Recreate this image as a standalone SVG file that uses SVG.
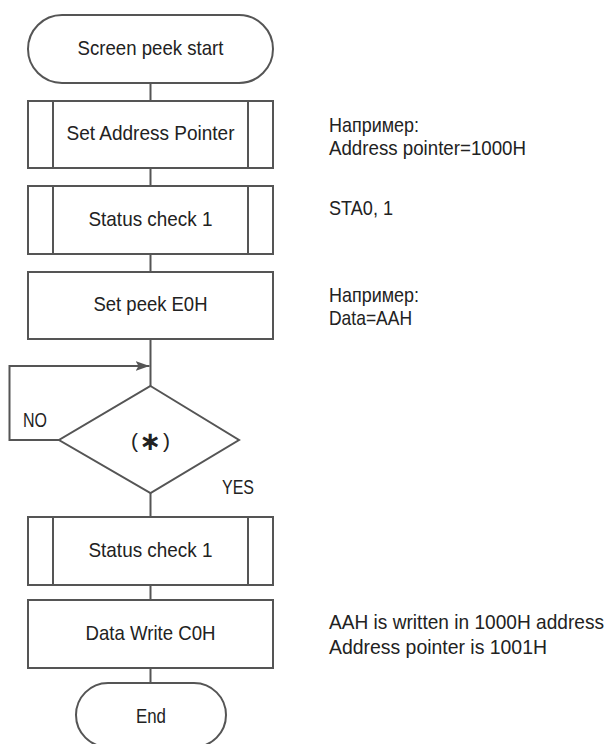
<svg xmlns="http://www.w3.org/2000/svg" width="613" height="744" viewBox="0 0 613 744">
<defs>
<style>
.s{fill:#fff;stroke:#555;stroke-width:2}
.c{fill:none;stroke:#555;stroke-width:2}
.t{font-family:"Liberation Sans Narrow","Liberation Sans",Arial,sans-serif;font-size:21px;fill:#222}
.m{text-anchor:middle}
.st{font-family:"DejaVu Sans",sans-serif;font-size:26px;font-weight:bold;fill:#222;text-anchor:middle}
</style>
<marker id="ah" viewBox="0 0 14 10" refX="14" refY="5" markerWidth="14" markerHeight="10" markerUnits="userSpaceOnUse" orient="auto">
<path d="M0,0 L14,5 L0,10 L3,5 Z" fill="#555"/>
</marker>
</defs>
<rect width="613" height="744" fill="#fff"/>
<g id="connectors">
<line class="c" x1="150.5" y1="83" x2="150.5" y2="101"/>
<line class="c" x1="150.5" y1="168" x2="150.5" y2="186"/>
<line class="c" x1="150.5" y1="254" x2="150.5" y2="272"/>
<line class="c" x1="150.5" y1="339" x2="150.5" y2="386"/>
<path class="c" d="M59,440 H9.5 V366 H149.5" marker-end="url(#ah)"/>
<line class="c" x1="150.5" y1="493" x2="150.5" y2="517"/>
<line class="c" x1="150.5" y1="585" x2="150.5" y2="600"/>
<line class="c" x1="150.5" y1="668" x2="150.5" y2="683"/>
<text class="t" x="23" y="427" textLength="24" lengthAdjust="spacingAndGlyphs">NO</text>
<text class="t" x="222" y="494" textLength="32" lengthAdjust="spacingAndGlyphs">YES</text>
</g>
<g id="start">
<rect class="s" x="28" y="15" width="245" height="68" rx="34" ry="34"/>
<text class="t m" x="150.5" y="55" textLength="146" lengthAdjust="spacingAndGlyphs">Screen peek start</text>
</g>
<g id="set-address-pointer">
<rect class="s" x="28" y="101" width="245" height="67"/>
<line class="c" x1="53" y1="101" x2="53" y2="168"/>
<line class="c" x1="248" y1="101" x2="248" y2="168"/>
<text class="t m" x="150.5" y="140" textLength="168" lengthAdjust="spacingAndGlyphs">Set Address Pointer</text>
</g>
<g id="status-check-1a">
<rect class="s" x="28" y="186" width="245" height="68"/>
<line class="c" x1="53" y1="186" x2="53" y2="254"/>
<line class="c" x1="248" y1="186" x2="248" y2="254"/>
<text class="t m" x="150.5" y="226" textLength="124" lengthAdjust="spacingAndGlyphs">Status check 1</text>
</g>
<g id="set-peek">
<rect class="s" x="28" y="272" width="245" height="67"/>
<text class="t m" x="150.5" y="311" textLength="114" lengthAdjust="spacingAndGlyphs">Set peek E0H</text>
</g>
<g id="decision">
<polygon class="s" points="150.5,386 239,440 150.5,493 59,440"/>
<text class="t" x="131" y="448">(</text>
<text class="st" x="150.5" y="450">∗</text>
<text class="t" x="163" y="448">)</text>
</g>
<g id="status-check-1b">
<rect class="s" x="28" y="517" width="245" height="68"/>
<line class="c" x1="53" y1="517" x2="53" y2="585"/>
<line class="c" x1="248" y1="517" x2="248" y2="585"/>
<text class="t m" x="150.5" y="557" textLength="124" lengthAdjust="spacingAndGlyphs">Status check 1</text>
</g>
<g id="data-write">
<rect class="s" x="28" y="600" width="245" height="68"/>
<text class="t m" x="150.5" y="640" textLength="130" lengthAdjust="spacingAndGlyphs">Data Write C0H</text>
</g>
<g id="end">
<rect class="s" x="76" y="683" width="150" height="64" rx="32" ry="32"/>
<text class="t m" x="151" y="723" textLength="30" lengthAdjust="spacingAndGlyphs">End</text>
</g>
<g id="notes">
<text class="t" x="329" y="132" textLength="90" lengthAdjust="spacingAndGlyphs">Например:</text>
<text class="t" x="329" y="155" textLength="197" lengthAdjust="spacingAndGlyphs">Address pointer=1000H</text>
<text class="t" x="329" y="215" textLength="64" lengthAdjust="spacingAndGlyphs">STA0, 1</text>
<text class="t" x="329" y="302" textLength="90" lengthAdjust="spacingAndGlyphs">Например:</text>
<text class="t" x="329" y="325" textLength="83" lengthAdjust="spacingAndGlyphs">Data=AAH</text>
<text class="t" x="329" y="629" textLength="275" lengthAdjust="spacingAndGlyphs">AAH is written in 1000H address</text>
<text class="t" x="329" y="654" textLength="218" lengthAdjust="spacingAndGlyphs">Address pointer is 1001H</text>
</g>
</svg>
